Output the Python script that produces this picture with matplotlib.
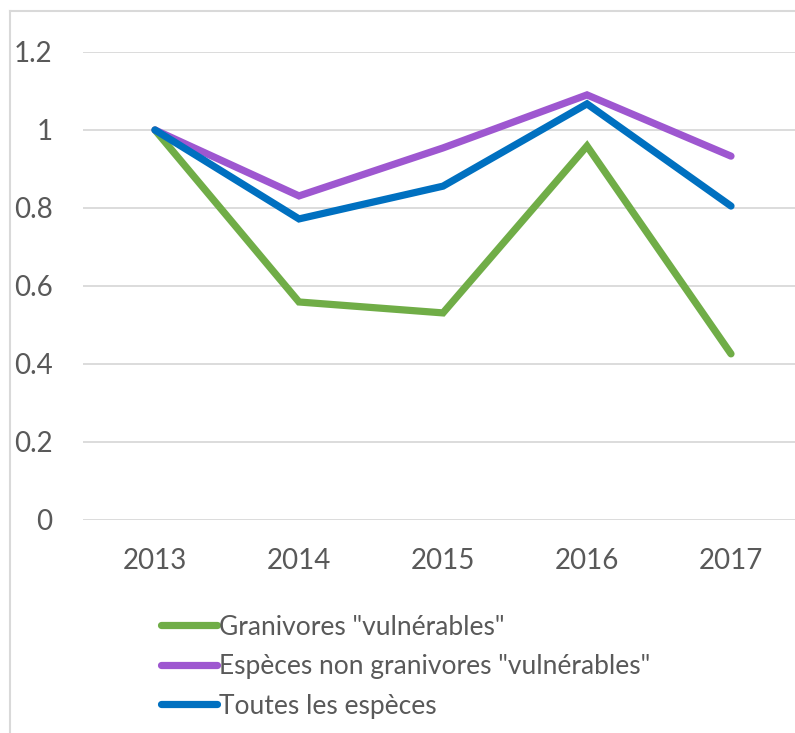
import matplotlib
matplotlib.use("Agg")
import matplotlib.pyplot as plt
from matplotlib.lines import Line2D

years = ["2013", "2014", "2015", "2016", "2017"]
granivores = [1.0, 0.559, 0.531, 0.959, 0.426]
non_granivores = [1.0, 0.831, 0.954, 1.090, 0.933]
toutes = [1.0, 0.772, 0.856, 1.067, 0.805]
series_labels = ['Granivores "vulnérables"',
                 'Espèces non granivores "vulnérables"',
                 'Toutes les espèces']
y_ticks = [0, 0.2, 0.4, 0.6, 0.8, 1.0, 1.2]
y_tick_labels = ["0", "0.2", "0.4", "0.6", "0.8", "1", "1.2"]

colors = ["#70ad47", "#9e57d0", "#0070c0"]
text_color = "#595959"
grid_color = "#d9d9d9"
font = "Lato"
fs = 20
legend_fs = 19

W, H = 795, 733
fig = plt.figure(figsize=(W / 100, H / 100), dpi=100)
ax = fig.add_axes([83 / W, 1 - 520 / H, 720 / W, (520 - 52) / H])

x = list(range(len(years)))
for vals, col, lab in zip([granivores, non_granivores, toutes], colors, series_labels):
    ax.plot(x, vals, color=col, lw=5.2, solid_capstyle="round",
            solid_joinstyle="miter", label=lab, zorder=3)

ax.set_xlim(-0.5, len(years) - 0.5)
ax.set_ylim(0, 1.2)
ax.set_yticks(y_ticks)
ax.set_yticklabels(y_tick_labels)
ax.set_xticks(x)
ax.set_xticklabels(years)
ax.yaxis.grid(True, color=grid_color, lw=1.3)
ax.set_axisbelow(True)
for s in ax.spines.values():
    s.set_visible(False)
ax.tick_params(axis="both", length=0, labelsize=fs, labelcolor=text_color)
ax.tick_params(axis="y", pad=22)
ax.tick_params(axis="x", pad=20)
for lbl in ax.get_xticklabels() + ax.get_yticklabels():
    lbl.set_fontfamily(font)
ax.patch.set_alpha(0)

leg = fig.legend(loc="upper left", bbox_to_anchor=(150 / W, 1 - 604 / H),
                 frameon=False, handlelength=2.15, handletextpad=0.06,
                 labelspacing=0.55, borderaxespad=0,
                 prop={"family": font, "size": legend_fs})
for t in leg.get_texts():
    t.set_color(text_color)
for h in leg.legend_handles:
    h.set_solid_capstyle("round")

# outer chart frame
fig.add_artist(Line2D([9.5 / W, 9.5 / W], [0, 1 - 10.5 / H], transform=fig.transFigure,
                      color=grid_color, lw=1.5))
fig.add_artist(Line2D([9.5 / W, 1], [1 - 10.5 / H, 1 - 10.5 / H], transform=fig.transFigure,
                      color=grid_color, lw=1.5))

fig.savefig("out.png", dpi=100, facecolor="white")
